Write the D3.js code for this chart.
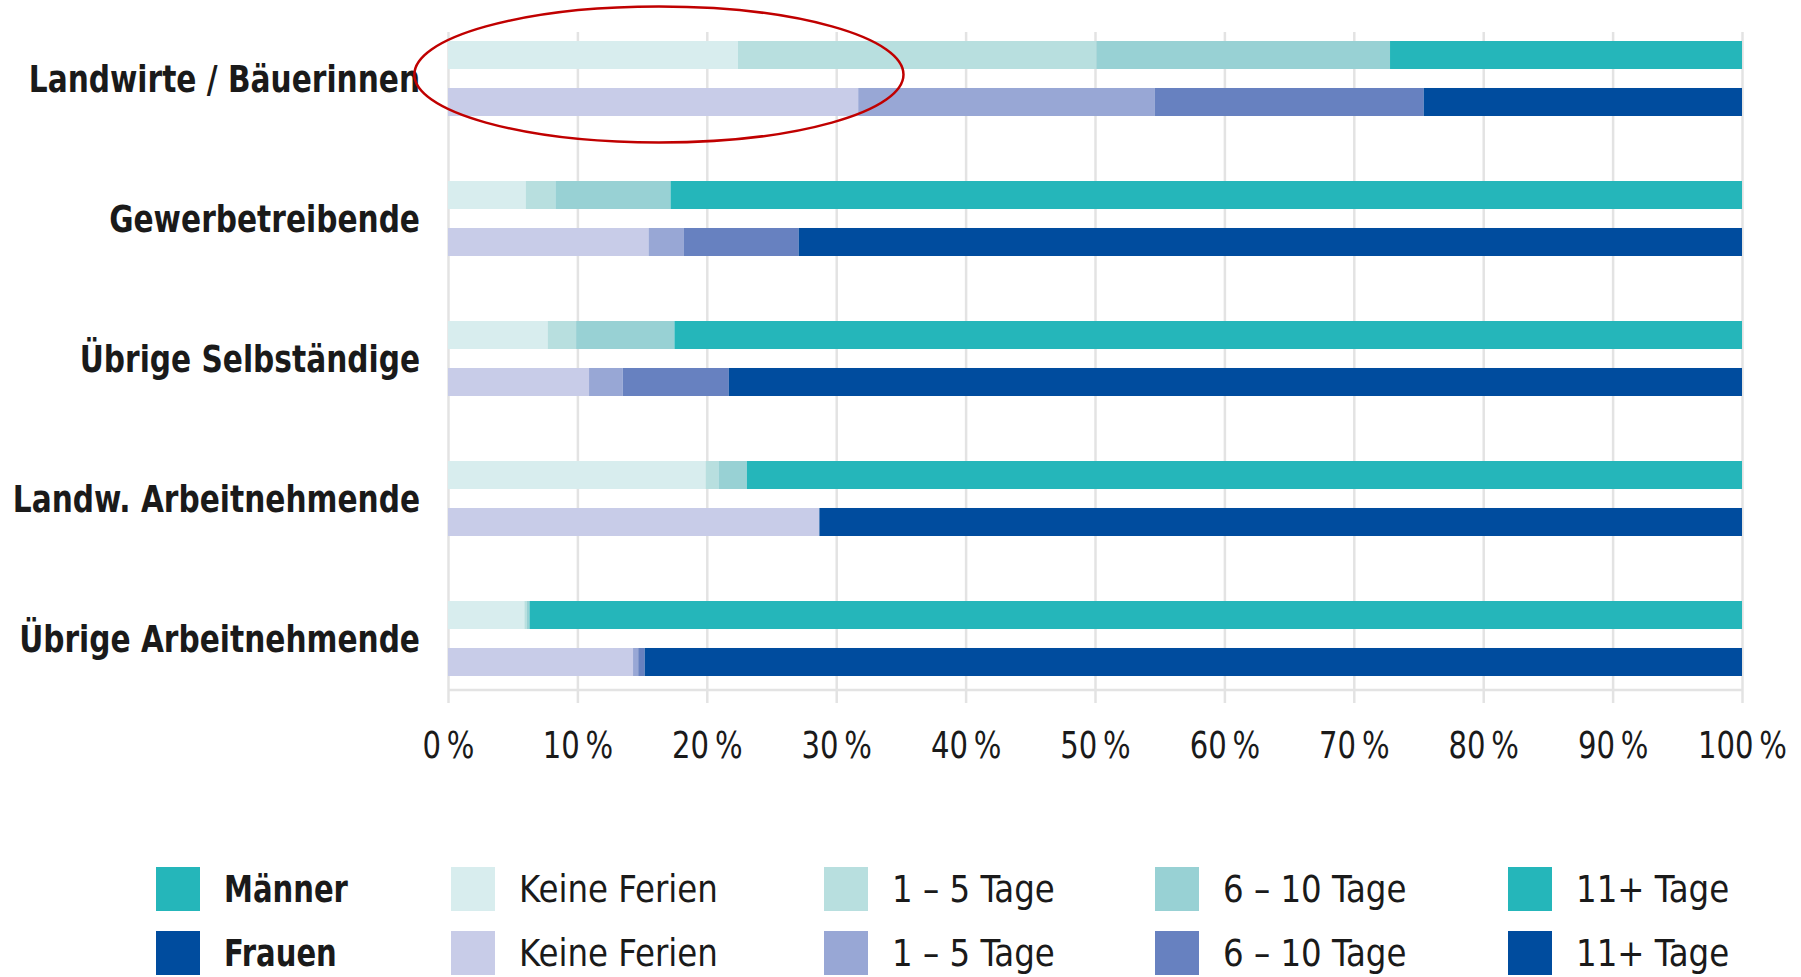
<!DOCTYPE html>
<html>
<head>
<meta charset="utf-8">
<script src="https://cdn.jsdelivr.net/npm/d3@7"></script>
<style>
  html, body { margin: 0; padding: 0; background: #ffffff; }
  svg { display: block; }
  text { font-family: 'Liberation Sans Narrow', 'DejaVu Sans Condensed', 'Open Sans', sans-serif; fill: #1a1a1a; }
</style>
</head>
<body>
<svg id="chart" width="1801" height="977"></svg>
<script>
// ---------- data ----------
const categories = [
  "Landwirte / Bäuerinnen",
  "Gewerbetreibende",
  "Übrige Selbständige",
  "Landw. Arbeitnehmende",
  "Übrige Arbeitnehmende"
];
const ferienKlassen = ["Keine Ferien", "1 – 5 Tage", "6 – 10 Tage", "11+ Tage"];
const genders = ["Männer", "Frauen"];

// shares in % per category: [Keine Ferien, 1–5 Tage, 6–10 Tage, 11+ Tage]
const maenner = [
  [22.4, 27.7, 22.7, 27.2],
  [6.0, 2.3, 8.9, 82.8],
  [7.7, 2.2, 7.6, 82.5],
  [19.9, 1.0, 2.2, 76.9],
  [5.9, 0.2, 0.2, 93.7]
];
const frauen = [
  [31.7, 22.9, 20.8, 24.6],
  [15.5, 2.7, 8.9, 72.9],
  [10.9, 2.6, 8.2, 78.3],
  [28.7, 0.0, 0.0, 71.3],
  [14.3, 0.4, 0.5, 84.8]
];
const tickValues = [0, 10, 20, 30, 40, 50, 60, 70, 80, 90, 100];

const maennerColors = ["#d8edee", "#b8dfdf", "#98d1d4", "#25b6ba"];
const frauenColors  = ["#c8cce8", "#98a7d5", "#6781c0", "#004c9e"];

// ---------- layout ----------
const svg = d3.select("#chart");
const plotLeft = 448, plotRight = 1742, plotTop = 32, baseY = 690, tickBottom = 703;
const fontSize = 37;

// horizontal condensing so the fallback font matches the condensed original
function condense(sel, refText, targetWidth) {
  const node = sel.filter(function () { return this.textContent === refText; }).node();
  const w = node ? node.getComputedTextLength() : targetWidth;
  return Math.min(1, targetWidth / w);
}

const x = d3.scaleLinear().domain([0, 100]).range([plotLeft, plotRight]);
const yCat = d3.scaleBand().domain(categories).range([41, 676]).paddingInner(0.4643).paddingOuter(0);
const yGen = d3.scaleBand().domain(genders).range([0, yCat.bandwidth()]).paddingInner(0.404).paddingOuter(0);

// gridlines + tick labels
const axis = d3.axisBottom(x)
  .tickValues(tickValues)
  .tickSizeInner(-(tickBottom - plotTop))
  .tickSizeOuter(0)
  .tickPadding(29)
  .tickFormat(d => d + "\u2009%");

const gAxis = svg.append("g")
  .attr("transform", `translate(0,${tickBottom})`)
  .call(axis);
gAxis.select(".domain").remove();
gAxis.selectAll(".tick line").attr("stroke", "#e3e3e3").attr("stroke-width", 2.5);
const tickTexts = gAxis.selectAll(".tick text")
  .attr("font-size", fontSize)
  .attr("fill", "#1a1a1a")
  .style("font-family", "'Liberation Sans Narrow', 'DejaVu Sans Condensed', 'Open Sans', sans-serif");
const sxTick = condense(tickTexts, "100\u2009%", 89);
tickTexts.attr("transform", `scale(${sxTick},1)`);

// baseline
svg.append("line")
  .attr("x1", x(0)).attr("x2", x(100))
  .attr("y1", baseY).attr("y2", baseY)
  .attr("stroke", "#e3e3e3").attr("stroke-width", 2.5);

// stacked bars
const stack = d3.stack().keys(d3.range(ferienKlassen.length)).value((d, k) => d[k]);
const sets = [
  { gender: "Männer", data: maenner, colors: maennerColors },
  { gender: "Frauen", data: frauen, colors: frauenColors }
];

sets.forEach(set => {
  const series = stack(set.data);
  const g = svg.append("g").attr("class", "bars-" + set.gender);
  series.forEach((s, k) => {
    g.selectAll(null)
      .data(s.map((seg, i) => ({ seg, cat: categories[i] })))
      .join("rect")
      .attr("x", d => x(d.seg[0]))
      .attr("width", d => Math.max(0, x(d.seg[1]) - x(d.seg[0])))
      .attr("y", d => yCat(d.cat) + yGen(set.gender))
      .attr("height", yGen.bandwidth())
      .attr("fill", set.colors[k]);
  });
});

// category labels
const catLabels = svg.append("g").selectAll("text")
  .data(categories)
  .join("text")
  .attr("dy", "0.36em")
  .attr("text-anchor", "end")
  .attr("font-size", fontSize)
  .attr("font-weight", "bold")
  .text(d => d);
const sxCat = condense(catLabels, "Übrige Arbeitnehmende", 401);
catLabels.attr("transform", d => `translate(${plotLeft - 28},${yCat(d) + yCat.bandwidth() / 2}) scale(${sxCat},1)`);

// red highlight ellipse
svg.append("ellipse")
  .attr("cx", x(16.3))
  .attr("cy", yCat(categories[0]) + yCat.bandwidth() / 2 - 4)
  .attr("rx", x(18.9) - x(0))
  .attr("ry", 68)
  .attr("fill", "none")
  .attr("stroke", "#c00000")
  .attr("stroke-width", 2.5);

// legend
const legendColX = [156, 451, 824, 1155, 1508];
const legendRowY = [889, 953];
const swatch = 44;
const legendRows = [
  { title: "Männer", colors: maennerColors },
  { title: "Frauen", colors: frauenColors }
];
const lg = svg.append("g");
const legendItems = [];
legendRows.forEach((row, r) => {
  const items = [{ label: row.title, color: row.colors[3], bold: true }]
    .concat(ferienKlassen.map((c, k) => ({ label: c, color: row.colors[k], bold: false })));
  items.forEach((it, c) => legendItems.push({ ...it, r, c }));
});
lg.selectAll("rect")
  .data(legendItems)
  .join("rect")
  .attr("x", d => legendColX[d.c])
  .attr("y", d => legendRowY[d.r] - swatch / 2)
  .attr("width", swatch).attr("height", swatch)
  .attr("fill", d => d.color);
const legTexts = lg.selectAll("text")
  .data(legendItems)
  .join("text")
  .attr("dy", "0.36em")
  .attr("font-size", fontSize)
  .attr("font-weight", d => d.bold ? "bold" : "normal")
  .text(d => d.label);
const sxLegReg = condense(legTexts, "Keine Ferien", 199);
const sxLegBold = condense(legTexts, "Männer", 124);
legTexts.attr("transform", d =>
  `translate(${legendColX[d.c] + swatch + 24},${legendRowY[d.r]}) scale(${d.bold ? sxLegBold : sxLegReg},1)`);
</script>
</body>
</html>
